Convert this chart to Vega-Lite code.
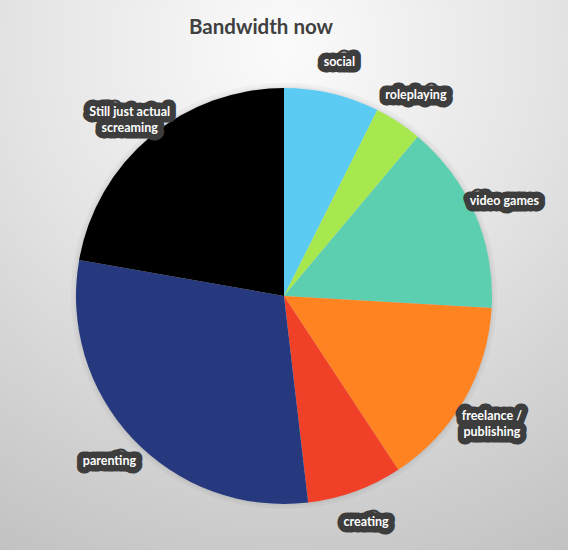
{
  "$schema": "https://vega.github.io/schema/vega-lite/v6.json",
  "width": 568,
  "height": 592,
  "padding": 0,
  "autosize": {"type": "none"},
  "title": {
    "text": "Bandwidth now",
    "font": "Lato",
    "fontSize": 20.5,
    "fontWeight": "bold",
    "color": "#404040",
    "anchor": "middle",
    "baseline": "alphabetic",
    "offset": -54,
    "dx": -23
  },
  "datasets": {
    "slices": [
      {"rank": 1, "category": "social", "label": "social", "value": 2},
      {"rank": 2, "category": "roleplaying", "label": "roleplaying", "value": 1},
      {"rank": 3, "category": "video games", "label": "video games", "value": 4},
      {"rank": 4, "category": "freelance / publishing", "label": "freelance /\npublishing", "value": 4},
      {"rank": 5, "category": "creating", "label": "creating", "value": 2},
      {"rank": 6, "category": "parenting", "label": "parenting", "value": 8},
      {"rank": 7, "category": "Still just actual screaming", "label": "Still just actual\nscreaming", "value": 6}
    ]
  },
  "layer": [
    {
      "data": {"values": [{}]},
      "mark": {
        "type": "rect",
        "color": {
          "gradient": "radial",
          "x1": 0.5, "y1": 0.08, "x2": 0.5, "y2": 0.08,
          "r1": 0, "r2": 1,
          "stops": [
            {"offset": 0, "color": "#fbfbfb"},
            {"offset": 0.45, "color": "#e4e4e4"},
            {"offset": 1, "color": "#c0c0c0"}
          ]
        }
      },
      "encoding": {}
    },
    {
      "data": {"name": "slices"},
      "mark": {"type": "arc", "outerRadius": 213, "color": "#000000", "opacity": 0.03},
      "encoding": {"theta": {"field": "value", "type": "quantitative", "stack": true}, "order": {"field": "rank"}}
    },
    {
      "data": {"name": "slices"},
      "mark": {"type": "arc", "outerRadius": 210, "color": "#000000", "opacity": 0.04},
      "encoding": {"theta": {"field": "value", "type": "quantitative", "stack": true}, "order": {"field": "rank"}}
    },
    {
      "data": {"name": "slices"},
      "mark": {"type": "arc", "outerRadius": 208},
      "encoding": {
        "theta": {"field": "value", "type": "quantitative", "stack": true},
        "order": {"field": "rank"},
        "color": {
          "field": "category",
          "type": "nominal",
          "legend": null,
          "scale": {
            "domain": ["social", "roleplaying", "video games", "freelance / publishing", "creating", "parenting", "Still just actual screaming"],
            "range": ["#5bcbf3", "#a8e84f", "#5ccfb1", "#ff8321", "#f04128", "#26397e", "#000000"]
          }
        },
        "tooltip": [
          {"field": "category", "type": "nominal"},
          {"field": "value", "type": "quantitative"}
        ]
      }
    },
    {
      "data": {"name": "slices"},
      "mark": {
        "type": "text",
        "radius": 240,
        "font": "Lato",
        "fontSize": 12.5,
        "fontWeight": "bold",
        "lineBreak": "\n",
        "lineHeight": 16,
        "align": "center",
        "baseline": "middle",
        "fill": "#3d3d3d",
        "stroke": "#3d3d3d",
        "strokeWidth": 13,
        "strokeJoin": "round"
      },
      "encoding": {
        "theta": {"field": "value", "type": "quantitative", "stack": true},
        "order": {"field": "rank"},
        "text": {"field": "label"}
      }
    },
    {
      "data": {"name": "slices"},
      "mark": {
        "type": "text",
        "radius": 240,
        "font": "Lato",
        "fontSize": 12.5,
        "fontWeight": "bold",
        "lineBreak": "\n",
        "lineHeight": 16,
        "align": "center",
        "baseline": "middle",
        "fill": "#ffffff"
      },
      "encoding": {
        "theta": {"field": "value", "type": "quantitative", "stack": true},
        "order": {"field": "rank"},
        "text": {"field": "label"}
      }
    }
  ],
  "config": {
    "view": {"stroke": "#c6c6c6", "strokeWidth": 1}
  }
}
